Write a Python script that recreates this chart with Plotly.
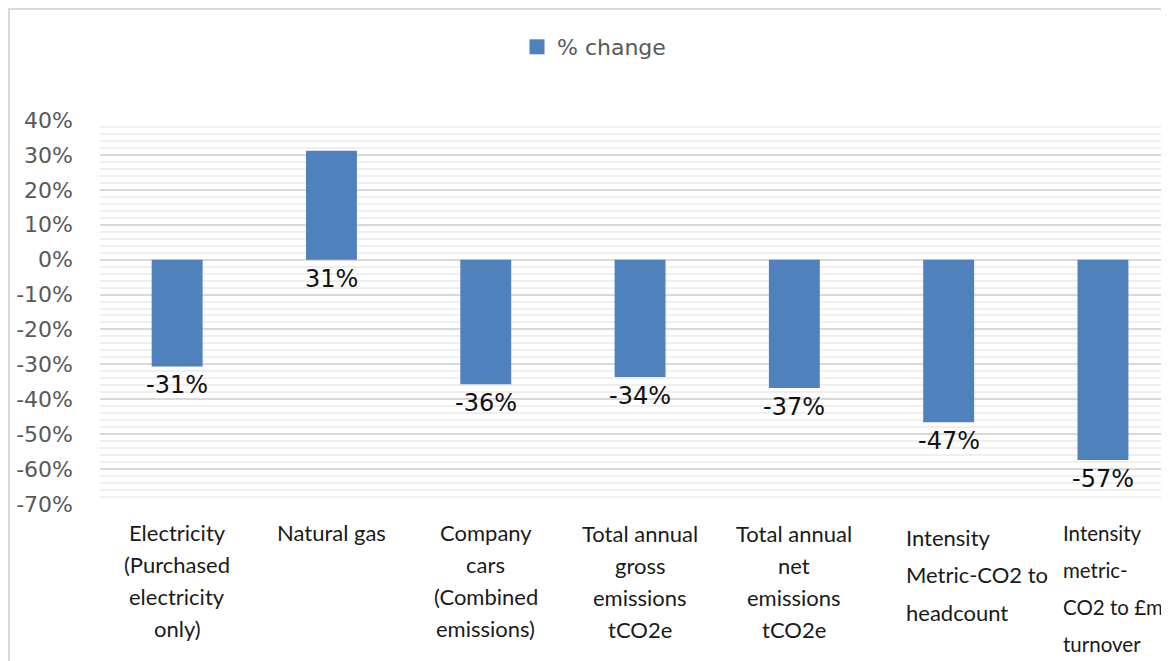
import plotly.graph_objects as go

categories = [
    "Electricity (Purchased electricity only)",
    "Natural gas",
    "Company cars (Combined emissions)",
    "Total annual gross emissions tCO2e",
    "Total annual net emissions tCO2e",
    "Intensity Metric-CO2 to headcount",
    "Intensity metric-CO2 to £m turnover",
]
label_lines = [
    ["Electricity", "(Purchased", "electricity", "only)"],
    ["Natural gas"],
    ["Company", "cars", "(Combined", "emissions)"],
    ["Total annual", "gross", "emissions", "tCO2e"],
    ["Total annual", "net", "emissions", "tCO2e"],
    ["Intensity", "Metric-CO2 to", "headcount"],
    ["Intensity", "metric-", "CO2 to £m", "turnover"],
]
pct_change = [-0.306, 0.312, -0.357, -0.336, -0.368, -0.466, -0.574]
series_name = "% change"
y_ticks = [0.4, 0.3, 0.2, 0.1, 0.0, -0.1, -0.2, -0.3, -0.4, -0.5, -0.6, -0.7]

# label layout styles (first line offset, line gap, alignment, x shift, font size)
label_styles = [
    (28, 32, "center", 0, 22),
    (28, 32, "center", 0, 22),
    (28, 32, "center", 0, 22),
    (29, 32, "center", 0, 22),
    (29, 32, "center", 0, 22),
    (33, 37.5, "left", -45, 22),
    (29, 37, "left", -42, 20.5),
]

BLUE = "#4F81BD"
GRAY = "#595959"
OFF = 8  # page body margin

fig = go.Figure()
fig.add_trace(go.Bar(
    x=categories, y=pct_change, name=series_name,
    marker=dict(color=BLUE, line=dict(width=0)),
    showlegend=False,
))
fig.add_trace(go.Scatter(
    x=[None], y=[None], mode="markers", name=series_name,
    marker=dict(symbol="square", size=15, color=BLUE),
    showlegend=True, hoverinfo="skip",
))

annotations = []
for cat, v in zip(categories, pct_change):
    annotations.append(dict(
        x=cat, y=min(v, 0), xref="x", yref="y",
        text=f"{round(v * 100):d}%", showarrow=False,
        yanchor="top", xanchor="center", yshift=-3,
        font=dict(family="DejaVu Sans", size=24, color="#111111"),
    ))

for cat, lines, (first, gap, align, xs, fs) in zip(categories, label_lines, label_styles):
    for i, line in enumerate(lines):
        annotations.append(dict(
            x=cat, y=0, xref="x", yref="paper",
            text=line, showarrow=False,
            yanchor="middle", xanchor=align, xshift=xs,
            yshift=-(first + i * gap),
            font=dict(family="Lato", size=fs, color="#1a1a1a"),
        ))

PL, PR, PT, PB = 100 - OFF, 1169 - OFF, 120 - OFF, 504 - OFF
pw, ph = PR - PL, PB - PT

fig.update_layout(
    width=1169, height=661,
    margin=dict(l=PL, r=1169 - PR, t=PT, b=661 - PB, pad=0),
    paper_bgcolor="white", plot_bgcolor="white",
    bargap=0.67,
    annotations=annotations,
    legend=dict(
        orientation="h", x=(537 - OFF - 20 - PL) / pw, xanchor="left",
        y=(PB - (47 - OFF)) / ph, yanchor="middle",
        font=dict(family="DejaVu Sans", size=22, color=GRAY),
        bgcolor="rgba(0,0,0,0)", borderwidth=0,
    ),
    shapes=[dict(
        type="rect", xref="paper", yref="paper",
        x0=(1 - PL) / pw, x1=1.05, y0=-1.0, y1=(PB - 1) / ph,
        line=dict(color="#d9d9d9", width=2), layer="below",
    )],
    xaxis=dict(
        range=[-0.5, -0.5 + pw / 154.3],
        showticklabels=False, showgrid=False, zeroline=False, showline=False,
        fixedrange=True,
    ),
    yaxis=dict(
        range=[-0.70, 0.40],
        tickvals=y_ticks, ticktext=[f"{round(t * 100):d}%" for t in y_ticks],
        tickfont=dict(family="DejaVu Sans", size=22, color=GRAY),
        showgrid=True, gridcolor="#d9d9d9", gridwidth=2,
        zeroline=False, showline=False, ticks="",
        ticklabelstandoff=26,
        minor=dict(dtick=0.02, tick0=0, showgrid=True, gridcolor="#efefef", gridwidth=1.5),
    ),
)

fig.write_html("out.html")
